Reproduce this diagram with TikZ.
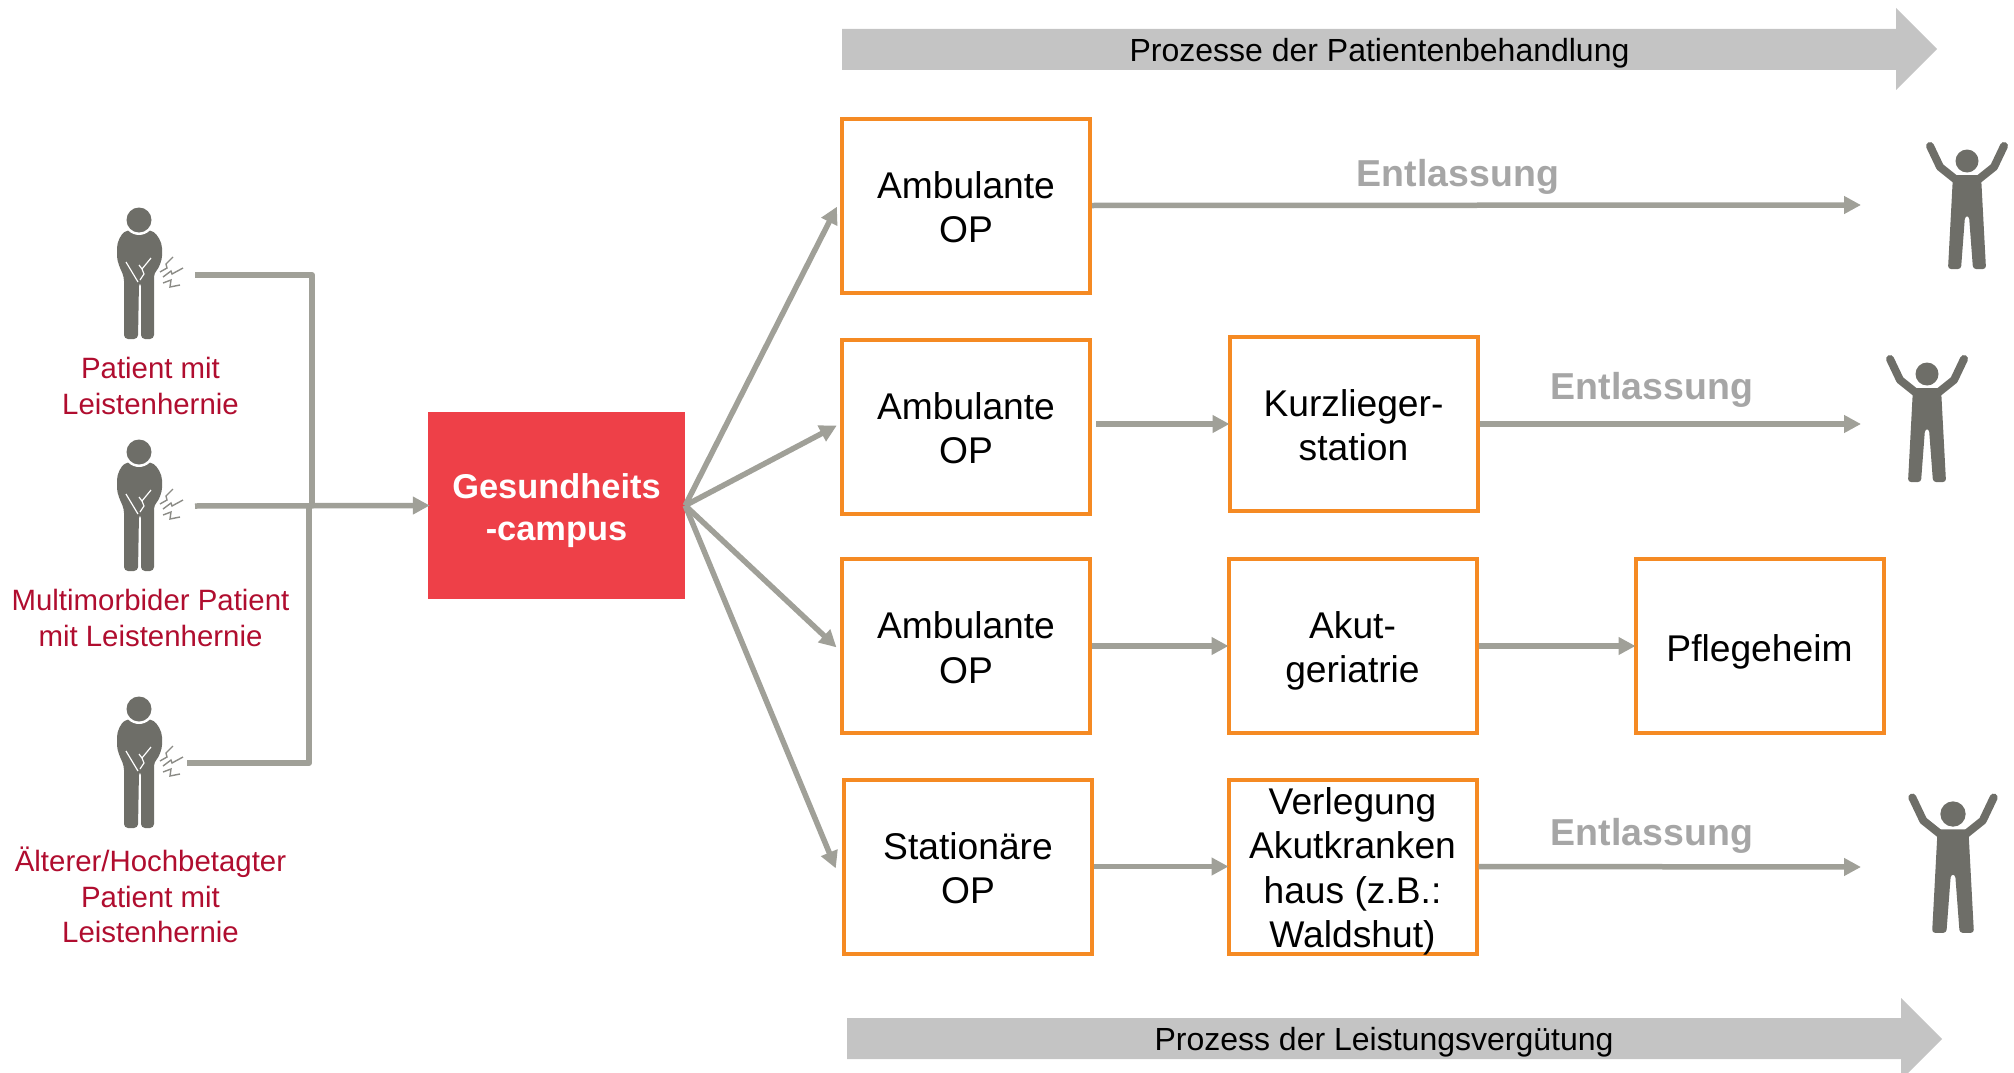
\documentclass[tikz,border=0pt]{standalone}
\usepackage{fontspec}
\setmainfont{Liberation Sans}
\usetikzlibrary{arrows.meta}
\definecolor{boxorange}{HTML}{F58A23}
\definecolor{campusred}{HTML}{EE4048}
\definecolor{linegray}{HTML}{A0A098}
\definecolor{bannergray}{HTML}{C4C4C4}
\definecolor{entgray}{HTML}{A6A6A6}
\definecolor{figgray}{HTML}{6E6E68}
\definecolor{labelred}{HTML}{B00D2F}
\newcommand\liftline[1]{\rule{0pt}{#1pt}}
\tikzset{
  x=1pt,y=-1pt,
  stagebox/.style={draw=boxorange,line width=4pt,fill=white,minimum width=248pt,minimum height=174pt,inner sep=0pt,align=center,font=\fontsize{37.2}{44.5}\selectfont,text=black},
  campusbox/.style={fill=campusred,minimum width=257pt,minimum height=187pt,inner sep=0pt,align=center,text=white,font=\fontsize{34.4}{42.5}\selectfont\bfseries},
  feeder/.style={draw=linegray,line width=6pt},
  flow/.style={draw=linegray,line width=5.5pt,shorten >=-2pt,-{Triangle[length=17pt,width=17pt]}},
  banner/.style={fill=bannergray},
  bannertext/.style={font=\fontsize{32}{38}\selectfont,text=black,inner sep=0pt},
  exit/.style={font=\fontsize{37.5}{44}\selectfont\bfseries,text=entgray,inner sep=0pt},
  patientlabel/.style={font=\fontsize{29.4}{35.7}\selectfont,text=labelred,align=center,inner sep=0pt},
  sick/.pic={
    \fill[figgray,rounded corners=4pt] (-11,10) .. controls (-18,14) and (-22,22) .. (-22,32)
      .. controls (-22,42) and (-18,50) .. (-15,57) -- (-15,119) -- (-1,119) -- (0,62) -- (2,62) -- (2,119) -- (15,119) -- (15,53)
      .. controls (20,48) and (23,40) .. (23,32) .. controls (23,22) and (18,14) .. (11,10) -- cycle;
    \fill[white] (0,0) circle (15);
    \fill[figgray] (0,0) circle (12.5);
    \draw[white,line width=1.2pt] (-13,42) -- (-1,62) (0,45) -- (3,49) -- (12,38) (3,49) -- (5,54) -- (1,60);
    \draw[figgray!80,line width=1.4pt] (21,52) -- (28,48) -- (27,44) -- (34,37)
      (24,57) -- (32,51) -- (33,54) -- (44,48)
      (24,63) -- (32,60) -- (31,67) -- (41,65);
  },
  happy/.pic={
    \fill[figgray,rounded corners=3pt] (-14,14) -- (14,14) -- (19,108) -- (6,108) -- (2,55) -- (-2,55) -- (-6,108) -- (-19,108) -- cycle;
    \draw[figgray,line width=8pt,line cap=round,line join=round] (-12,18) -- (-27,6) -- (-37,-15);
    \draw[figgray,line width=8pt,line cap=round,line join=round] (12,18) -- (27,6) -- (37,-15);
    \fill[figgray] (0,0) circle (11.5);
  }
}
\begin{document}
\begin{tikzpicture}
\useasboundingbox (0,0) rectangle (2014,1073);
\clip (0,0) rectangle (2014,1073);

% banners
\fill[banner] (842,29) -- (1896,29) -- (1896,8) -- (1937,49) -- (1896,90) -- (1896,70) -- (842,70) -- cycle;
\fill[banner] (847,1018) -- (1901,1018) -- (1901,998) -- (1942,1039) -- (1901,1080) -- (1901,1059) -- (847,1059) -- cycle;
\node[bannertext] (topbanner) at (1379.5,53.5) {Prozesse der Patientenbehandlung};
\node[bannertext] (botbanner) at (1384,1042.5) {Prozess der Leistungsvergütung};

% boxes
\node[stagebox] (a1) at (966,205.5) {\liftline{30}Ambulante\\OP};
\node[stagebox] (a2) at (966,426.5) {\liftline{30}Ambulante\\OP};
\node[stagebox] (a3) at (966,646) {\liftline{30}Ambulante\\OP};
\node[stagebox] (s4) at (968,866.5) {\liftline{30}Stationäre\\OP};
\node[stagebox] (kurz) at (1353.5,424) {\liftline{29}Kurzlieger-\\station};
\node[stagebox] (akut) at (1352.5,646) {\liftline{37}Akut-\\geriatrie};
\node[stagebox] (pflege) at (1759.5,646) {\liftline{39}Pflegeheim};
\node[stagebox] (verl) at (1352.5,866.5) {\liftline{29}Verlegung\\Akutkranken\\haus (z.B.:\\\smash{Waldshut)}};
\node[campusbox] (campus) at (556.5,505.5) {\liftline{35}Gesundheits\\-campus};

% patient figures
\pic at (139,220) {sick};
\pic at (139,452) {sick};
\pic at (139,709) {sick};
\node[patientlabel] (l1) at (150.5,386) {Patient mit\\Leistenhernie};
\node[patientlabel] (l2) at (150.5,618) {Multimorbider Patient\\mit Leistenhernie};
\node[patientlabel] (l3) at (150.5,895) {Älterer/Hochbetagter\\Patient mit\\Leistenhernie};

% happy figures
\pic at (1967,161) {happy};
\pic at (1927,374) {happy};
\pic[scale=1.1] at (1953,814) {happy};
\coordinate (end1) at (1859,205);
\coordinate (end2) at (1859,424);
\coordinate (end4) at (1859,867);

% feeders
\coordinate (p1) at (195,275);
\coordinate (p2) at (195,506);
\coordinate (p3) at (187,763);
\coordinate (j1) at (312,506);
\coordinate (j3) at (309,506);
\draw[feeder,line join=round] (p1) -| (j1);
\draw[feeder,line join=round] (p3) -| (j3);
\draw[flow] (p2) -- (campus.west);

% fan
\draw[flow] (campus.east) -- ([shift={(-4,3)}]a1.west);
\draw[flow] (campus.east) -- ([shift={(-5,0)}]a2.west);
\draw[flow] (campus.east) -- ([shift={(-5,0)}]a3.west);
\draw[flow] (campus.east) -- ([shift={(-7,0)}]s4.west);

% chains
\draw[flow] (a1.east) -- (end1);
\draw[flow] ([shift={(4,-2.5)}]a2.east) -- (kurz.west);
\draw[flow] (kurz.east) -- (end2);
\draw[flow] (a3.east) -- (akut.west);
\draw[flow] (akut.east) -- (pflege.west);
\draw[flow] (s4.east) -- (verl.west);
\draw[flow] (verl.east) -- (end4);

\node[exit] (e1) at (1458,177) {Entlassung};
\node[exit] (e2) at (1652,390) {Entlassung};
\node[exit] (e4) at (1652,836) {Entlassung};
\end{tikzpicture}
\end{document}
